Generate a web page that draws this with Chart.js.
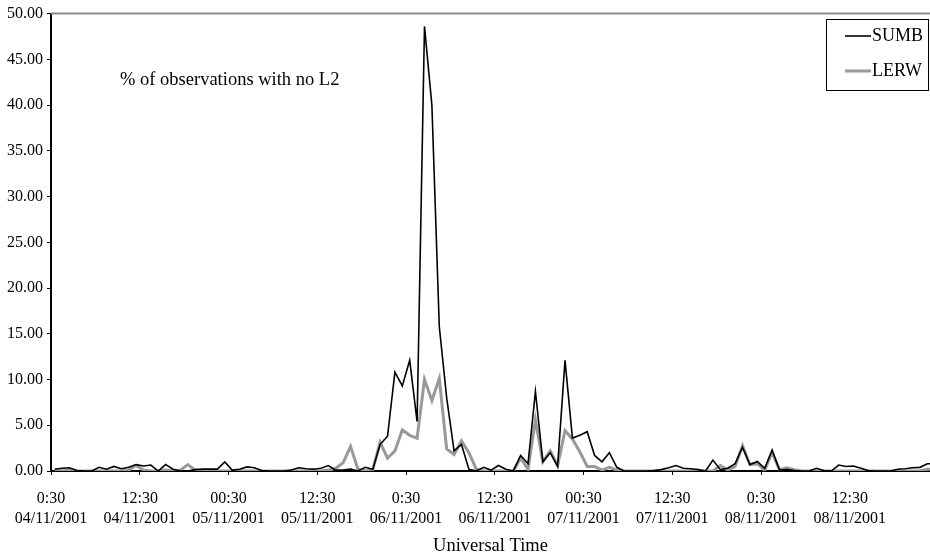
<!DOCTYPE html>
<html>
<head>
<meta charset="utf-8">
<script src="https://cdn.jsdelivr.net/npm/chart.js@4/dist/chart.umd.min.js"></script>
<style>
  html, body { margin: 0; padding: 0; background: #fff; overflow: hidden; }
  #wrap { width: 930px; height: 557px; position: relative; }
</style>
</head>
<body>
<div id="wrap"><canvas id="noL2Chart"></canvas></div>
<script>
// hourly values, first point 00:30 04/11/2001
const sumb = [
  0.2, 0.3, 0.35, 0.05, 0, 0, 0.4, 0.2, 0.5, 0.25,
  0.4, 0.7, 0.55, 0.65, 0, 0.7, 0.2, 0, 0, 0.15,
  0.2, 0.2, 0.2, 1.0, 0.1, 0.2, 0.45, 0.35, 0.05, 0,
  0, 0, 0.1, 0.35, 0.25, 0.2, 0.3, 0.6, 0.1, 0.1,
  0.2, 0, 0.4, 0.2, 2.9, 3.8, 10.8, 9.3, 12.1, 5.4,
  48.6, 40.0, 15.8, 8.0, 2.2, 2.9, 0.2, 0, 0.4, 0.1,
  0.6, 0.2, 0, 1.7, 0.8, 8.7, 1.0, 2.0, 0.5, 12.1,
  3.6, 3.9, 4.3, 1.7, 1.0, 2.0, 0.4, 0, 0, 0,
  0, 0.05, 0.15, 0.35, 0.6, 0.3, 0.25, 0.15, 0, 1.2,
  0.15, 0.3, 0.8, 2.6, 0.7, 1.05, 0.3, 2.3, 0.1, 0.15,
  0.05, 0, 0, 0.3, 0.05, 0, 0.65, 0.5, 0.55, 0.3,
  0.05, 0, 0, 0, 0.2, 0.25, 0.35, 0.4, 0.8, 0.8
];
const lerw = [
  0, 0, 0.1, 0, 0, 0, 0, 0, 0, 0,
  0.1, 0.6, 0.1, 0, 0, 0.1, 0, 0.1, 0.7, 0.1,
  0, 0, 0, 0, 0, 0, 0, 0, 0, 0,
  0, 0, 0, 0, 0, 0, 0, 0.1, 0.3, 0.9,
  2.7, 0.2, 0, 0.1, 3.15, 1.4, 2.2, 4.5, 3.9, 3.6,
  10.0, 7.7, 10.1, 2.4, 1.8, 3.3, 2.0, 0.2, 0, 0,
  0, 0, 0, 1.4, 0.2, 5.6, 1.0, 2.2, 0.6, 4.4,
  3.5, 2.1, 0.5, 0.5, 0.1, 0.4, 0.1, 0, 0, 0,
  0, 0, 0, 0, 0, 0, 0, 0, 0, 0,
  0.6, 0.1, 0.5, 2.75, 0.7, 0.8, 0.1, 2.0, 0.15, 0.35,
  0.15, 0, 0, 0, 0, 0, 0, 0, 0, 0,
  0, 0, 0, 0, 0, 0, 0, 0, 0.2, 0.2
];
const tickHours = [0, 12, 24, 36, 48, 60, 72, 84, 96, 108];
const tickLabels = [
  ['0:30', '04/11/2001'], ['12:30', '04/11/2001'],
  ['00:30', '05/11/2001'], ['12:30', '05/11/2001'],
  ['0:30', '06/11/2001'], ['12:30', '06/11/2001'],
  ['00:30', '07/11/2001'], ['12:30', '07/11/2001'],
  ['0:30', '08/11/2001'], ['12:30', '08/11/2001']
];
const seriesNames = ['SUMB', 'LERW'];
const yTicks = [0, 5, 10, 15, 20, 25, 30, 35, 40, 45, 50];

const serif = "'Liberation Serif', 'Times New Roman', serif";

// points sit in the middle of each hourly slot
function toPoints(arr) {
  return arr.map((v, i) => ({ x: i + 0.5, y: v }));
}

// top border, note text and the boxed legend
const extras = {
  id: 'extras',
  afterDraw(chart) {
    const { ctx, chartArea } = chart;
    ctx.save();
    ctx.strokeStyle = '#8c8c8c';
    ctx.lineWidth = 2;
    ctx.beginPath();
    ctx.moveTo(chartArea.left, chartArea.top);
    ctx.lineTo(chartArea.right, chartArea.top);
    ctx.stroke();

    ctx.fillStyle = '#000';
    ctx.font = '18.5px ' + serif;
    ctx.textBaseline = 'middle';
    ctx.textAlign = 'left';
    ctx.fillText('% of observations with no L2', 120, 80);

    // legend
    ctx.strokeStyle = '#000';
    ctx.lineWidth = 1;
    ctx.strokeRect(826.5, 19.5, 102, 71);
    chart.data.datasets.forEach((ds, k) => {
      const y = 36 + k * 35;
      ctx.strokeStyle = ds.borderColor;
      ctx.lineWidth = ds.borderWidth;
      ctx.beginPath();
      ctx.moveTo(845, y);
      ctx.lineTo(871, y);
      ctx.stroke();
      ctx.fillStyle = '#000';
      ctx.font = '18px ' + serif;
      ctx.fillText(ds.label, 872, y);
    });
    ctx.restore();
  }
};

new Chart(document.getElementById('noL2Chart'), {
  type: 'line',
  data: {
    datasets: [
      {
        label: seriesNames[0],
        data: toPoints(sumb),
        borderColor: '#000000',
        borderWidth: 1.6,
        pointRadius: 0,
        tension: 0
      },
      {
        label: seriesNames[1],
        data: toPoints(lerw),
        borderColor: '#999999',
        borderWidth: 3,
        pointRadius: 0,
        tension: 0
      }
    ]
  },
  options: {
    responsive: true,
    maintainAspectRatio: false,
    animation: false,
    layout: { padding: { top: 11, right: 0, left: 0, bottom: 0 } },
    plugins: {
      legend: { display: false },
      tooltip: { enabled: false }
    },
    scales: {
      x: {
        type: 'linear',
        min: 0,
        max: 118.85,
        afterBuildTicks: (scale) => {
          scale.ticks = tickHours.map(v => ({ value: v }));
        },
        afterFit: (scale) => { scale.height = 86; },
        ticks: {
          color: '#000',
          font: { family: serif, size: 16, lineHeight: 1.25 },
          padding: 14,
          maxRotation: 0,
          autoSkip: false,
          callback: (value) => tickLabels[tickHours.indexOf(value)]
        },
        grid: {
          drawOnChartArea: false,
          drawTicks: true,
          tickLength: 4,
          color: '#000',
          lineWidth: 1
        },
        border: { color: '#000', width: 2 },
        title: {
          display: true,
          text: 'Universal Time',
          color: '#000',
          font: { family: serif, size: 18.5 },
          padding: { top: 0, bottom: 0 }
        }
      },
      y: {
        min: 0,
        max: 50,
        afterBuildTicks: (scale) => {
          scale.ticks = yTicks.map(v => ({ value: v }));
        },
        afterFit: (scale) => { scale.width = 51; },
        ticks: {
          color: '#000',
          font: { family: serif, size: 16 },
          padding: 4,
          callback: (value) => value.toFixed(2)
        },
        grid: {
          drawOnChartArea: false,
          drawTicks: true,
          tickLength: 4,
          color: '#000',
          lineWidth: 1
        },
        border: { color: '#000', width: 2 }
      }
    }
  },
  plugins: [extras]
});
</script>
</body>
</html>
